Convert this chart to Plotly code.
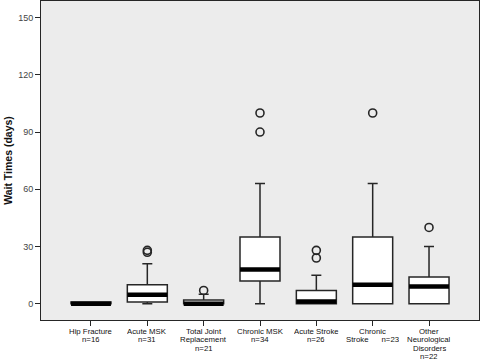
import plotly.graph_objects as go

categories = ["Hip Fracture<br>n=16", "Acute MSK<br>n=31", "Total Joint<br>Replacement<br>n=21",
              "Chronic MSK<br>n=34", "Acute Stroke<br>n=26", "Chronic<br>Stroke      n=23",
              "Other<br>Neurological<br>Disorders<br>n=22"]
q1 = [0, 1, 0, 12, 0, 0, 0]
median = [0, 4.7, 0, 18, 1.2, 10, 9]
q3 = [1, 10, 2, 35, 7, 35, 14]
lower = [0, 0, 0, 0, 0, 0, 0]
upper = [1, 21, 5, 63, 15, 63, 30]
outlier_cat = [1, 1, 2, 3, 3, 4, 4, 5, 6]
outlier_val = [27, 28, 7, 90, 100, 24, 28, 100, 40]
y_ticks = [0, 30, 60, 90, 120, 150]

xpos = list(range(len(categories)))
ink = "#262626"

fig = go.Figure()
fig.add_trace(go.Box(
    x=xpos, q1=q1, median=median, q3=q3, lowerfence=lower, upperfence=upper,
    width=0.71, whiskerwidth=0.25, fillcolor="white",
    line=dict(color=ink, width=1.5), boxpoints=False, showlegend=False,
    hoverinfo="skip"))
fig.add_trace(go.Scatter(
    x=xpos, y=median, mode="markers", showlegend=False,
    marker=dict(symbol="line-ew", size=28.5, line=dict(color="black", width=4.5)),
    hoverinfo="skip"))
fig.add_trace(go.Scatter(
    x=outlier_cat, y=outlier_val, mode="markers", showlegend=False,
    marker=dict(symbol="circle-open", size=8, color=ink, line=dict(width=1.6)),
    hoverinfo="skip"))

# category labels as stacked lines (tight line spacing like the original)
line_step = 8.6
for i, lab in enumerate(categories):
    for j, line in enumerate(lab.split("<br>")):
        fig.add_annotation(x=xpos[i], xref="x", y=0, yref="paper", yanchor="top",
                           text=line, showarrow=False, yshift=-(5.5 + j * line_step),
                           height=line_step, borderpad=0,
                           font=dict(size=7.8, color="#111"))

fig.update_layout(
    width=480, height=361,
    margin=dict(l=41, r=1, t=1, b=41),
    paper_bgcolor="white", plot_bgcolor="#ececec",
    font=dict(family="Liberation Sans, Arial", color="#333"),
    xaxis=dict(range=[-0.887, 6.887], tickvals=xpos, ticktext=[""] * len(xpos),
               ticks="outside", ticklen=5, tickcolor=ink, showgrid=False,
               zeroline=False, showline=True, linecolor=ink, linewidth=1, mirror=True),
    yaxis=dict(range=[-8.5, 158.7], tickvals=y_ticks, ticks="outside", ticklen=5,
               tickcolor=ink, showgrid=False, zeroline=False, showline=True,
               linecolor=ink, linewidth=1, mirror=True,
               tickfont=dict(size=9, color="#444"),
               title=dict(text="<b>Wait Times (days)</b>", font=dict(size=10.5, color="#111"),
                          standoff=3)),
)
fig.write_html("out.html", config={"displayModeBar": False},
               post_script="document.body.style.margin='0';document.body.style.overflow='hidden';")
